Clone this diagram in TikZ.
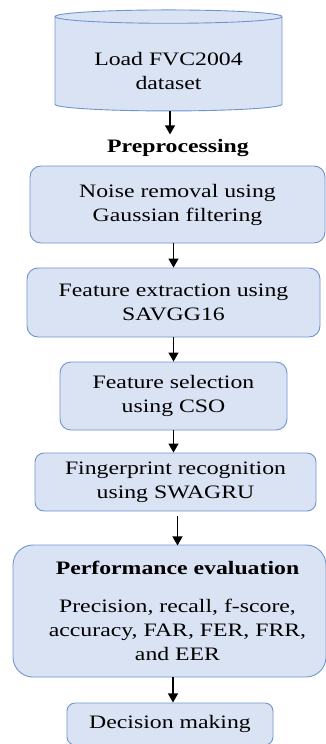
\documentclass[tikz,border=0pt]{standalone}
\usepackage{fontspec}
\setmainfont[FakeStretch=1.25]{Liberation Serif}
\usepackage{tikz}
\usetikzlibrary{arrows.meta,shapes.geometric}
\definecolor{boxfill}{HTML}{DAE3F3}
\definecolor{boxline}{HTML}{6F94CF}
\tikzset{
	stage/.style={draw=boxline, fill=boxfill, line width=0.9pt, rounded corners=11pt, align=center, inner sep=0pt},
	store/.style={cylinder, shape border rotate=90, aspect=0.09, draw=boxline, fill=boxfill, line width=0.9pt, align=center, inner sep=0pt},
	arr/.style={line width=1.3pt, -{Triangle[length=9pt,width=10pt]}},
}

\begin{document}
\begin{tikzpicture}[x=1pt, y=-1pt, font=\fontsize{19}{24}\selectfont]
			%%%%% START %%%%%
			
			\useasboundingbox (0, 0) rectangle (326, 744);
			\clip (0, 0) rectangle (326, 744);
			
			\node[store, minimum width=227pt, minimum height=101pt] (load) at (168.5, 64) {\rule{0pt}{27pt}Load FVC2004\\dataset};
			\node (prep) at (178, 148) {\textbf{Preprocessing}};
			
			\node[stage, minimum width=295pt, minimum height=77pt] (noise) at (177.5, 204.5) {Noise removal using\\Gaussian filtering};
			\node[stage, minimum width=293pt, minimum height=69pt] (extract) at (173.5, 302.5) {Feature extraction using\\SAVGG16};
			\node[stage, minimum width=227pt, minimum height=68pt] (select) at (173.5, 396) {Feature selection\\using CSO};
			\node[stage, minimum width=281pt, minimum height=58pt, rounded corners=9pt] (recog) at (175.5, 482) {Fingerprint recognition\\using SWAGRU};
			\node[stage, minimum width=313pt, minimum height=132pt, rounded corners=20pt] (perf) at (169.5, 611) {\hspace*{16pt}\textbf{Performance evaluation}\\[14pt]\hspace*{16pt}Precision, recall, f-score,\\\hspace*{16pt}accuracy, FAR, FER, FRR,\\\hspace*{16pt}and EER};
			\node[stage, minimum width=206pt, minimum height=42pt, rounded corners=8pt] (decide) at (170, 724) {Decision making};
			
			\draw[arr] (load.south -| prep.north) ++(-8, 0) -- ++(0, 23);
			\draw[arr] (noise.south -| extract.north) -- (extract.north);
			\draw[arr] (extract.south) -- (select.north);
			\draw[arr] (select.south) -- (select.south |- recog.north);
			\draw[arr] (recog.south) ++(2, 5) -- ++(0, 29);
			\draw[arr] (perf.south -| decide.north) ++(3, 0) -- ++(0, 25);
			
			%%%%% END %%%%%
\end{tikzpicture}
\end{document}
